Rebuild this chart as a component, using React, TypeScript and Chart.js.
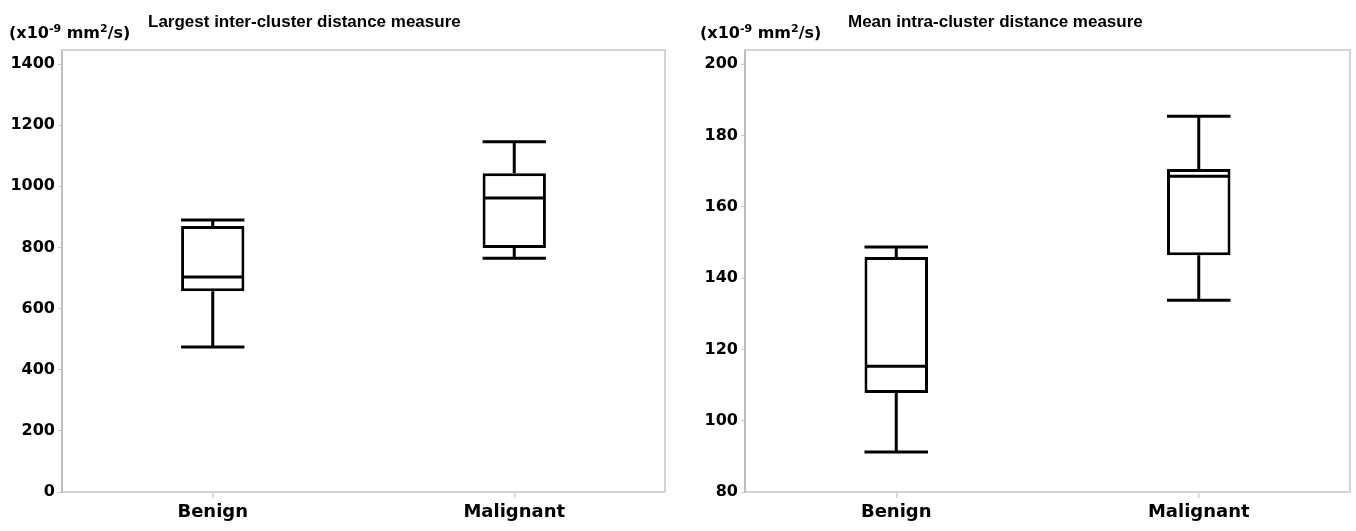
import React, { useEffect, useRef } from "react";
import { Chart, registerables } from "chart.js";

Chart.register(...registerables);

const categories = ["Benign", "Malignant"];

// Largest inter-cluster distance measure
const interMin = [474, 765];
const interQ1 = [657, 798];
const interMedian = [703, 962];
const interQ3 = [870, 1043];
const interMax = [890, 1146];
const interTicks = [0, 200, 400, 600, 800, 1000, 1200, 1400];

// Mean intra-cluster distance measure
const intraMin = [91.2, 133.8];
const intraQ1 = [107.8, 146.4];
const intraMedian = [115.3, 168.6];
const intraQ3 = [145.9, 170.6];
const intraMax = [148.7, 185.4];
const intraTicks = [80, 100, 120, 140, 160, 180, 200];

const TICK_FONT = "DejaVu Sans";
const TITLE_FONT = "Liberation Sans";

type BoxProps = {
  left: number;
  width: number;
  yMin: number;
  yMax: number;
  ticks: number[];
  mins: number[];
  q1s: number[];
  medians: number[];
  q3s: number[];
  maxs: number[];
  title: string;
  titleX: number;
  unitX: number;
  yAxisWidth: number;
  padRight: number;
};

function BoxChart(p: BoxProps) {
  const ref = useRef<HTMLCanvasElement>(null);
  useEffect(() => {
    const canvas = ref.current!;
    const framePlugin = {
      id: "frame",
      beforeDatasetsDraw(chart: any) {
        const { ctx, chartArea } = chart;
        ctx.save();
        ctx.strokeStyle = "#d4d4d4";
        ctx.lineWidth = 2;
        ctx.beginPath();
        ctx.moveTo(chartArea.left, chartArea.top);
        ctx.lineTo(chartArea.right, chartArea.top);
        ctx.lineTo(chartArea.right, chartArea.bottom);
        ctx.stroke();
        ctx.restore();
      },
    };
    const boxPlugin = {
      id: "boxWhiskers",
      afterDatasetsDraw(chart: any) {
        const ctx = chart.ctx;
        const y = chart.scales.y;
        const meta = chart.getDatasetMeta(0);
        ctx.save();
        ctx.strokeStyle = "#000";
        ctx.lineWidth = 3;
        ctx.lineCap = "butt";
        meta.data.forEach((bar: any, i: number) => {
          const { x, width } = bar.getProps(["x", "width"], true);
          const h = width / 2;
          const yMed = y.getPixelForValue(p.medians[i]);
          const yQ1 = y.getPixelForValue(p.q1s[i]);
          const yQ3 = y.getPixelForValue(p.q3s[i]);
          const yLo = y.getPixelForValue(p.mins[i]);
          const yHi = y.getPixelForValue(p.maxs[i]);
          ctx.beginPath();
          ctx.moveTo(x - h + 1.5, yMed);
          ctx.lineTo(x + h - 1.5, yMed);
          ctx.moveTo(x, yQ3);
          ctx.lineTo(x, yHi);
          ctx.moveTo(x - h, yHi);
          ctx.lineTo(x + h, yHi);
          ctx.moveTo(x, yQ1);
          ctx.lineTo(x, yLo);
          ctx.moveTo(x - h, yLo);
          ctx.lineTo(x + h, yLo);
          ctx.stroke();
        });
        ctx.restore();
      },
    };
    const textPlugin = {
      id: "texts",
      afterDraw(chart: any) {
        const ctx = chart.ctx;
        ctx.save();
        ctx.fillStyle = "#000";
        ctx.textBaseline = "alphabetic";
        ctx.textAlign = "left";
        ctx.font = `bold 17px "${TITLE_FONT}"`;
        ctx.fillText(p.title, p.titleX, 27);
        // unit label: (x10^-9 mm^2/s)
        let x = p.unitX;
        const base = 38;
        const big = `bold 16px "${TICK_FONT}"`;
        const small = `bold 11px "${TICK_FONT}"`;
        const seg = (t: string, font: string, dy: number) => {
          ctx.font = font;
          ctx.fillText(t, x, base + dy);
          x += ctx.measureText(t).width;
        };
        seg("(x10", big, 0);
        seg("-9", small, -6);
        seg(" mm", big, 0);
        seg("2", small, -6);
        seg("/s)", big, 0);
        ctx.restore();
      },
    };
    const chart = new Chart(canvas, {
      type: "bar",
      data: {
        labels: categories,
        datasets: [
          {
            data: p.q1s.map((q, i) => [q, p.q3s[i]]) as any,
            backgroundColor: "#ffffff",
            borderColor: "#000000",
            borderWidth: 3,
            borderSkipped: false,
            barPercentage: 0.21,
            categoryPercentage: 1,
          },
        ],
      },
      options: {
        animation: false,
        responsive: false,
        maintainAspectRatio: false,
        layout: { padding: { top: 50, right: p.padRight, left: 0, bottom: 0 } },
        plugins: {
          legend: { display: false },
          tooltip: { enabled: false },
          title: { display: false },
        },
        scales: {
          x: {
            afterFit: (s: any) => {
              s.height = 39;
            },
            ticks: {
              font: { family: TICK_FONT, weight: "bold", size: 18 },
              color: "#000",
              padding: 4,
            },
            grid: {
              drawOnChartArea: false,
              offset: false,
              tickLength: 6,
              color: "#cfcfcf",
              lineWidth: 1.5,
            },
            border: { color: "#d4d4d4", width: 2 },
          },
          y: {
            min: p.yMin,
            max: p.yMax,
            afterBuildTicks: (s: any) => {
              s.ticks = p.ticks.map((v) => ({ value: v }));
            },
            afterFit: (s: any) => {
              s.width = p.yAxisWidth;
            },
            ticks: {
              font: { family: TICK_FONT, weight: "bold", size: 16 },
              color: "#000",
              padding: 3,
              callback: (v: any) => String(v),
            },
            grid: {
              drawOnChartArea: false,
              tickLength: 4,
              color: "#c8c8c8",
              lineWidth: 1,
            },
            border: { color: "#bdbdbd", width: 2, dash: [2, 2] },
          },
        },
      } as any,
      plugins: [framePlugin, boxPlugin, textPlugin],
    });
    return () => chart.destroy();
  }, []);
  return (
    <div style={{ position: "absolute", left: p.left, top: 0, width: p.width, height: 531 }}>
      <canvas ref={ref} width={p.width} height={531} style={{ display: "block" }} />
    </div>
  );
}

export default function App() {
  return (
    <div style={{ position: "absolute", left: 0, top: 0, width: 1356, height: 531, background: "#fff" }}>
      <BoxChart
        left={0}
        width={675}
        yMin={0}
        yMax={1446}
        ticks={interTicks}
        mins={interMin}
        q1s={interQ1}
        medians={interMedian}
        q3s={interQ3}
        maxs={interMax}
        title="Largest inter-cluster distance measure"
        titleX={148}
        unitX={9}
        yAxisWidth={62}
        padRight={10}
      />
      <BoxChart
        left={675}
        width={681}
        yMin={80}
        yMax={204}
        ticks={intraTicks}
        mins={intraMin}
        q1s={intraQ1}
        medians={intraMedian}
        q3s={intraQ3}
        maxs={intraMax}
        title="Mean intra-cluster distance measure"
        titleX={173}
        unitX={25}
        yAxisWidth={70}
        padRight={6}
      />
    </div>
  );
}
